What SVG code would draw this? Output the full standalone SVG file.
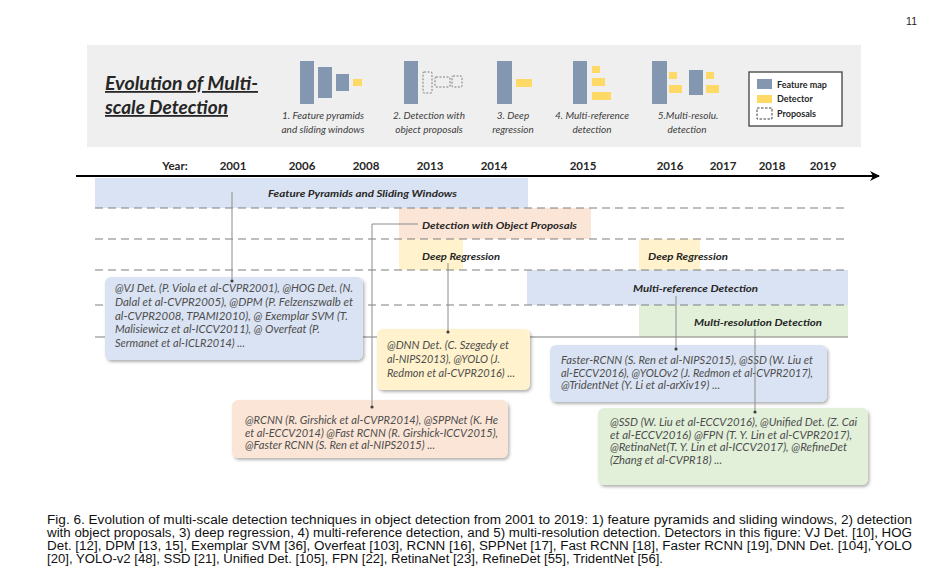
<svg xmlns="http://www.w3.org/2000/svg" width="947" height="586" viewBox="0 0 947 586">
<defs>
<filter id="sh" x="-10%" y="-10%" width="125%" height="135%">
<feDropShadow dx="1.5" dy="2" stdDeviation="1.5" flood-color="#000" flood-opacity="0.3"/>
</filter>
<style>
.ttl{font-family:Lato,"Liberation Sans",sans-serif;font-size:18px;font-weight:bold;font-style:italic;fill:#262626;text-decoration:underline}
.hl{font-family:Lato,"Liberation Sans",sans-serif;font-size:10px;font-style:italic;fill:#404040;text-anchor:middle}
.lg{font-family:Lato,"Liberation Sans",sans-serif;font-size:9px;font-weight:bold;fill:#262626}
.yr{font-family:Lato,"Liberation Sans",sans-serif;font-size:11.5px;font-weight:bold;fill:#262626;text-anchor:middle}
.bl{font-family:Lato,"Liberation Sans",sans-serif;font-size:10px;font-weight:bold;font-style:italic;fill:#262626}
.bx{font-family:Lato,"Liberation Sans",sans-serif;font-size:10.5px;font-style:italic;fill:#4d4d4d}
.cap{font-family:"Liberation Sans",Arial,sans-serif;font-size:12px;fill:#111}
.fm{fill:#8497b0}
.dt{fill:#ffd966}
.pr{fill:none;stroke:#7f7f7f;stroke-width:1;stroke-dasharray:2 1.5}
.dash{stroke:#7f7f7f;stroke-width:1.2;stroke-dasharray:8 5;fill:none}
.con{stroke:#8c8c8c;stroke-width:1;fill:none}
.dot{fill:#404040}
</style>
<marker id="arr" markerWidth="10" markerHeight="10" refX="9" refY="5" orient="auto" markerUnits="userSpaceOnUse">
<path d="M0,0 L10,5 L0,10 L3,5 Z" fill="#000"/>
</marker>
</defs>
<rect width="947" height="586" fill="#fff"/>
<text x="917" y="25" font-family="'Liberation Sans',sans-serif" font-size="10.5" text-anchor="end" fill="#222">11</text>

<g id="header">
<rect x="87" y="45" width="774" height="102" fill="#efefef"/>
<text class="ttl" x="105" y="90" textLength="153" lengthAdjust="spacingAndGlyphs">Evolution of Multi-</text>
<text class="ttl" x="105" y="114" textLength="123" lengthAdjust="spacingAndGlyphs">scale Detection</text>
</g>

<g id="icon1">
<rect class="fm" x="300" y="61" width="14" height="43"/>
<rect class="fm" x="318" y="67" width="14" height="31"/>
<rect class="fm" x="336" y="74" width="13" height="17"/>
<rect class="dt" x="353" y="79" width="9" height="7"/>
<text class="hl" x="323" y="119">1. Feature pyramids</text>
<text class="hl" x="323" y="133">and sliding windows</text>
</g>
<g id="icon2">
<rect class="fm" x="404" y="61" width="14" height="43"/>
<rect class="pr" x="423" y="72" width="9" height="21" rx="1"/>
<rect class="pr" x="435" y="77" width="15" height="10" rx="1"/>
<rect class="pr" x="452" y="76" width="10" height="11" rx="1"/>
<text class="hl" x="429" y="119">2. Detection with</text>
<text class="hl" x="429" y="133">object proposals</text>
</g>
<g id="icon3">
<rect class="fm" x="497" y="61" width="15" height="43"/>
<rect class="dt" x="516" y="79" width="16" height="8"/>
<text class="hl" x="513" y="119">3. Deep</text>
<text class="hl" x="513" y="133">regression</text>
</g>
<g id="icon4">
<rect class="fm" x="573" y="61" width="14" height="43"/>
<rect class="dt" x="592" y="66" width="8" height="7"/>
<rect class="dt" x="592" y="78" width="13" height="8"/>
<rect class="dt" x="592" y="92" width="19" height="8"/>
<text class="hl" x="592" y="119">4. Multi-reference</text>
<text class="hl" x="592" y="133">detection</text>
</g>
<g id="icon5">
<rect class="fm" x="652" y="61" width="15" height="43"/>
<rect class="dt" x="669" y="72" width="8" height="7"/>
<rect class="dt" x="669" y="85" width="13" height="8"/>
<rect class="fm" x="689" y="70" width="14" height="25"/>
<rect class="dt" x="706" y="72" width="8" height="7"/>
<rect class="dt" x="706" y="85" width="13" height="8"/>
<text class="hl" x="688" y="119">5.Multi-resolu.</text>
<text class="hl" x="687" y="133">detection</text>
</g>
<g id="legend">
<rect x="749" y="72" width="93" height="54" fill="#fff" stroke="#404040" stroke-width="1.3"/>
<rect class="fm" x="757" y="79" width="15" height="10"/>
<text class="lg" x="777" y="88">Feature map</text>
<rect class="dt" x="757" y="95" width="15" height="8"/>
<text class="lg" x="777" y="102">Detector</text>
<rect x="757" y="108" width="15" height="11" fill="none" stroke="#404040" stroke-width="1" stroke-dasharray="2.5 1.5"/>
<text class="lg" x="777" y="117">Proposals</text>
</g>

<g id="timeline">
<text class="yr" x="175" y="170">Year:</text>
<text class="yr" x="233" y="170">2001</text>
<text class="yr" x="302" y="170">2006</text>
<text class="yr" x="366" y="170">2008</text>
<text class="yr" x="430" y="170">2013</text>
<text class="yr" x="494" y="170">2014</text>
<text class="yr" x="583" y="170">2015</text>
<text class="yr" x="670" y="170">2016</text>
<text class="yr" x="723" y="170">2017</text>
<text class="yr" x="772" y="170">2018</text>
<text class="yr" x="823" y="170">2019</text>
<line x1="76" y1="176" x2="879" y2="176" stroke="#000" stroke-width="2" marker-end="url(#arr)"/>
</g>

<g id="bands">
<rect x="95" y="178" width="433" height="30" fill="#dae3f3"/>
<rect x="399" y="208" width="192" height="31" fill="#fbe5d6"/>
<rect x="399" y="239" width="64" height="31" fill="#fff2cc"/>
<rect x="639" y="239" width="61" height="31" fill="#fff2cc"/>
<rect x="527" y="270" width="321" height="35" fill="#dae3f3"/>
<rect x="639" y="305" width="209" height="32" fill="#e2f0d9"/>
<path class="dash" d="M95,208 H848 M95,239 H848 M95,270 H848 M95,305 H848"/>
<line x1="95" y1="337" x2="848" y2="337" stroke="#7f7f7f" stroke-width="1.2"/>
<text class="bl" x="268" y="197" textLength="189" lengthAdjust="spacingAndGlyphs">Feature Pyramids and Sliding Windows</text>
<text class="bl" x="422" y="229" textLength="155" lengthAdjust="spacingAndGlyphs">Detection with Object Proposals</text>
<text class="bl" x="422" y="260" textLength="78" lengthAdjust="spacingAndGlyphs">Deep Regression</text>
<text class="bl" x="648" y="260" textLength="80" lengthAdjust="spacingAndGlyphs">Deep Regression</text>
<text class="bl" x="633" y="292" textLength="125" lengthAdjust="spacingAndGlyphs">Multi-reference Detection</text>
<text class="bl" x="694" y="326" textLength="128" lengthAdjust="spacingAndGlyphs">Multi-resolution Detection</text>
</g>

<g id="node-vj">
<rect x="105" y="277" width="258" height="83" rx="6" fill="#dae3f3" filter="url(#sh)"/>
<text class="bx" x="115" y="292" textLength="238" lengthAdjust="spacingAndGlyphs">@VJ Det. (P. Viola et al-CVPR2001), @HOG Det. (N.</text>
<text class="bx" x="115" y="306" textLength="238" lengthAdjust="spacingAndGlyphs">Dalal et al-CVPR2005), @DPM (P. Felzenszwalb et</text>
<text class="bx" x="115" y="320" textLength="233" lengthAdjust="spacingAndGlyphs">al-CVPR2008, TPAMI2010), @ Exemplar SVM (T.</text>
<text class="bx" x="115" y="333" textLength="205" lengthAdjust="spacingAndGlyphs">Malisiewicz et al-ICCV2011), @ Overfeat (P.</text>
<text class="bx" x="115" y="347" textLength="130" lengthAdjust="spacingAndGlyphs">Sermanet et al-ICLR2014) ...</text>
</g>
<g id="node-dnn">
<rect x="377" y="329" width="153" height="61" rx="6" fill="#fff2cc" filter="url(#sh)"/>
<text class="bx" x="387" y="349" textLength="122" lengthAdjust="spacingAndGlyphs">@DNN Det. (C. Szegedy et</text>
<text class="bx" x="387" y="363" textLength="113" lengthAdjust="spacingAndGlyphs">al-NIPS2013), @YOLO (J.</text>
<text class="bx" x="387" y="377" textLength="128" lengthAdjust="spacingAndGlyphs">Redmon et al-CVPR2016) ...</text>
</g>
<g id="node-mref">
<rect x="550" y="345" width="277" height="57" rx="6" fill="#dae3f3" filter="url(#sh)"/>
<text class="bx" x="561" y="364" textLength="252" lengthAdjust="spacingAndGlyphs">Faster-RCNN (S. Ren et al-NIPS2015), @SSD (W. Liu et</text>
<text class="bx" x="561" y="377" textLength="252" lengthAdjust="spacingAndGlyphs">al-ECCV2016),  @YOLOv2 (J. Redmon et al-CVPR2017),</text>
<text class="bx" x="561" y="389" textLength="159" lengthAdjust="spacingAndGlyphs">@TridentNet (Y. Li et al-arXiv19) ...</text>
</g>
<g id="node-rcnn">
<rect x="232" y="400" width="276" height="58" rx="6" fill="#fbe5d6" filter="url(#sh)"/>
<text class="bx" x="245" y="424" textLength="253" lengthAdjust="spacingAndGlyphs">@RCNN (R. Girshick et al-CVPR2014), @SPPNet (K. He</text>
<text class="bx" x="245" y="437" textLength="253" lengthAdjust="spacingAndGlyphs">et al-ECCV2014) @Fast RCNN (R. Girshick-ICCV2015),</text>
<text class="bx" x="245" y="449" textLength="190" lengthAdjust="spacingAndGlyphs">@Faster RCNN (S. Ren et al-NIPS2015) ...</text>
</g>
<g id="node-mres">
<rect x="598" y="408" width="270" height="77" rx="6" fill="#e2f0d9" filter="url(#sh)"/>
<text class="bx" x="610" y="426" textLength="247" lengthAdjust="spacingAndGlyphs">@SSD (W. Liu et al-ECCV2016), @Unified Det. (Z. Cai</text>
<text class="bx" x="610" y="439" textLength="242" lengthAdjust="spacingAndGlyphs">et al-ECCV2016) @FPN (T. Y. Lin et al-CVPR2017),</text>
<text class="bx" x="610" y="451" textLength="237" lengthAdjust="spacingAndGlyphs">@RetinaNet(T. Y. Lin et al-ICCV2017), @RefineDet</text>
<text class="bx" x="610" y="464" textLength="112" lengthAdjust="spacingAndGlyphs">(Zhang et al-CVPR18) ...</text>
</g>

<g id="connectors">
<path class="con" d="M232,192 V281"/>
<circle class="dot" cx="232" cy="281" r="1.6"/>
<path class="con" d="M418,224 H372 V407"/>
<circle class="dot" cx="372" cy="407" r="1.6"/>
<path class="con" d="M448,263 V332"/>
<circle class="dot" cx="448" cy="332" r="1.6"/>
<path class="con" d="M676,296 V349"/>
<circle class="dot" cx="676" cy="349" r="1.6"/>
<path class="con" d="M755,329 V412"/>
<circle class="dot" cx="755" cy="412" r="1.6"/>
</g>

<g id="caption">
<text class="cap" x="47" y="524" textLength="865" lengthAdjust="spacingAndGlyphs">Fig. 6.  Evolution of multi-scale detection techniques in object detection from 2001 to 2019: 1) feature pyramids and sliding windows, 2) detection</text>
<text class="cap" x="47" y="537" textLength="865" lengthAdjust="spacingAndGlyphs">with object proposals, 3) deep regression, 4) multi-reference detection, and 5) multi-resolution detection. Detectors in this figure: VJ Det. [10], HOG</text>
<text class="cap" x="47" y="550" textLength="865" lengthAdjust="spacingAndGlyphs">Det. [12], DPM [13, 15], Exemplar SVM [36], Overfeat [103], RCNN [16], SPPNet [17], Fast RCNN [18], Faster RCNN [19], DNN Det. [104], YOLO</text>
<text class="cap" x="47" y="563" textLength="616" lengthAdjust="spacingAndGlyphs">[20], YOLO-v2 [48], SSD [21], Unified Det. [105], FPN [22], RetinaNet [23], RefineDet [55], TridentNet [56].</text>
</g>
</svg>
